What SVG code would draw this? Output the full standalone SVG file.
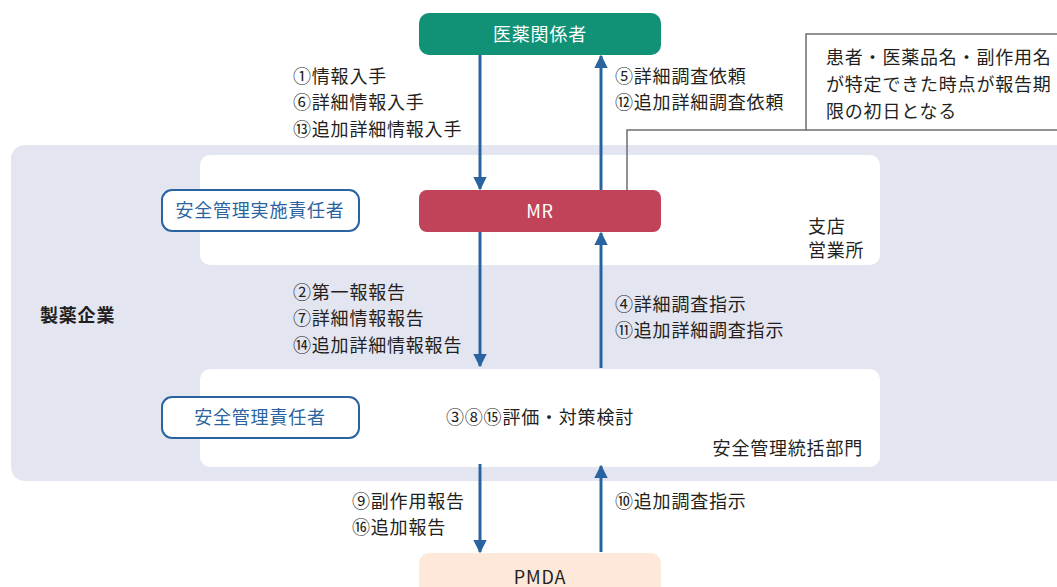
<svg xmlns="http://www.w3.org/2000/svg" width="1057" height="587" viewBox="0 0 1057 587">
<defs>
<marker id="ah" viewBox="0 0 10 10" refX="9" refY="5" markerWidth="4.6" markerHeight="4.6" orient="auto" markerUnits="strokeWidth">
<path d="M0,0 L10,5 L0,10 z" fill="#2a64a0"/>
</marker>
<style>
text{font-family:"Noto Sans CJK JP","Noto Sans",sans-serif;font-size:18px;fill:#231f20;letter-spacing:0.8px}
.c{text-anchor:middle}
.w{fill:#ffffff}
.b{fill:#2a64a0}
.conn{stroke:#2a64a0;stroke-width:3;fill:none;marker-end:url(#ah)}
.role{fill:#ffffff;stroke:#2a64a0;stroke-width:2}
.panel{fill:#ffffff}
</style>
</defs>
<rect width="1057" height="587" fill="#ffffff"/>
<g id="company">
<rect x="11" y="145" width="1070" height="336" rx="14" fill="#e3e5f1"/>
<text x="40" y="322" style="font-weight:bold">製薬企業</text>
</g>
<g id="branch">
<rect class="panel" x="200" y="155" width="680" height="110" rx="10"/>
<text x="808" y="233">支店</text>
<text x="808" y="257">営業所</text>
</g>
<g id="hq">
<rect class="panel" x="200" y="369" width="680" height="98" rx="10"/>
<text x="863" y="455" text-anchor="end">安全管理統括部門</text>
<text x="446" y="424">③⑧⑮評価・対策検討</text>
</g>
<g id="iyaku">
<rect x="419" y="13" width="242" height="42" rx="10" fill="#119276"/>
<text class="c w" x="540" y="41">医薬関係者</text>
</g>
<g id="mr">
<rect x="419" y="190" width="242" height="42" rx="8" fill="#c0435a"/>
<text class="c w" x="540" y="218">MR</text>
</g>
<g id="pmda">
<rect x="419" y="553" width="242" height="50" rx="10" fill="#fde8da"/>
<text class="c" x="540" y="584">PMDA</text>
</g>
<g id="role1">
<rect class="role" x="162" y="190" width="197" height="41" rx="10"/>
<text class="c b" x="260" y="217">安全管理実施責任者</text>
</g>
<g id="role2">
<rect class="role" x="162" y="397" width="197" height="41" rx="10"/>
<text class="c b" x="260" y="424">安全管理責任者</text>
</g>
<g id="callout">
<polyline points="627,190 627,130 806,130" fill="none" stroke="#6d6e70" stroke-width="1.5"/>
<rect x="806" y="34" width="260" height="96" fill="#ffffff" stroke="#6d6e70" stroke-width="1.5"/>
<text x="826" y="64">患者・医薬品名・副作用名</text>
<text x="826" y="91">が特定できた時点が報告期</text>
<text x="826" y="118">限の初日となる</text>
</g>
<g id="connectors">
<line class="conn" x1="480" y1="55" x2="480" y2="189"/>
<line class="conn" x1="601" y1="190" x2="601" y2="56"/>
<line class="conn" x1="480" y1="232" x2="480" y2="366"/>
<line class="conn" x1="601" y1="368" x2="601" y2="233"/>
<line class="conn" x1="480" y1="464" x2="480" y2="552"/>
<line class="conn" x1="601" y1="552" x2="601" y2="466"/>
</g>
<g id="labels">
<text x="293" y="83">①情報入手</text>
<text x="293" y="109">⑥詳細情報入手</text>
<text x="293" y="136">⑬追加詳細情報入手</text>
<text x="615" y="83">⑤詳細調査依頼</text>
<text x="615" y="109">⑫追加詳細調査依頼</text>
<text x="293" y="299">②第一報報告</text>
<text x="293" y="325">⑦詳細情報報告</text>
<text x="293" y="352">⑭追加詳細情報報告</text>
<text x="615" y="311">④詳細調査指示</text>
<text x="615" y="337">⑪追加詳細調査指示</text>
<text x="352" y="508">⑨副作用報告</text>
<text x="352" y="534">⑯追加報告</text>
<text x="615" y="508">⑩追加調査指示</text>
</g>
</svg>
